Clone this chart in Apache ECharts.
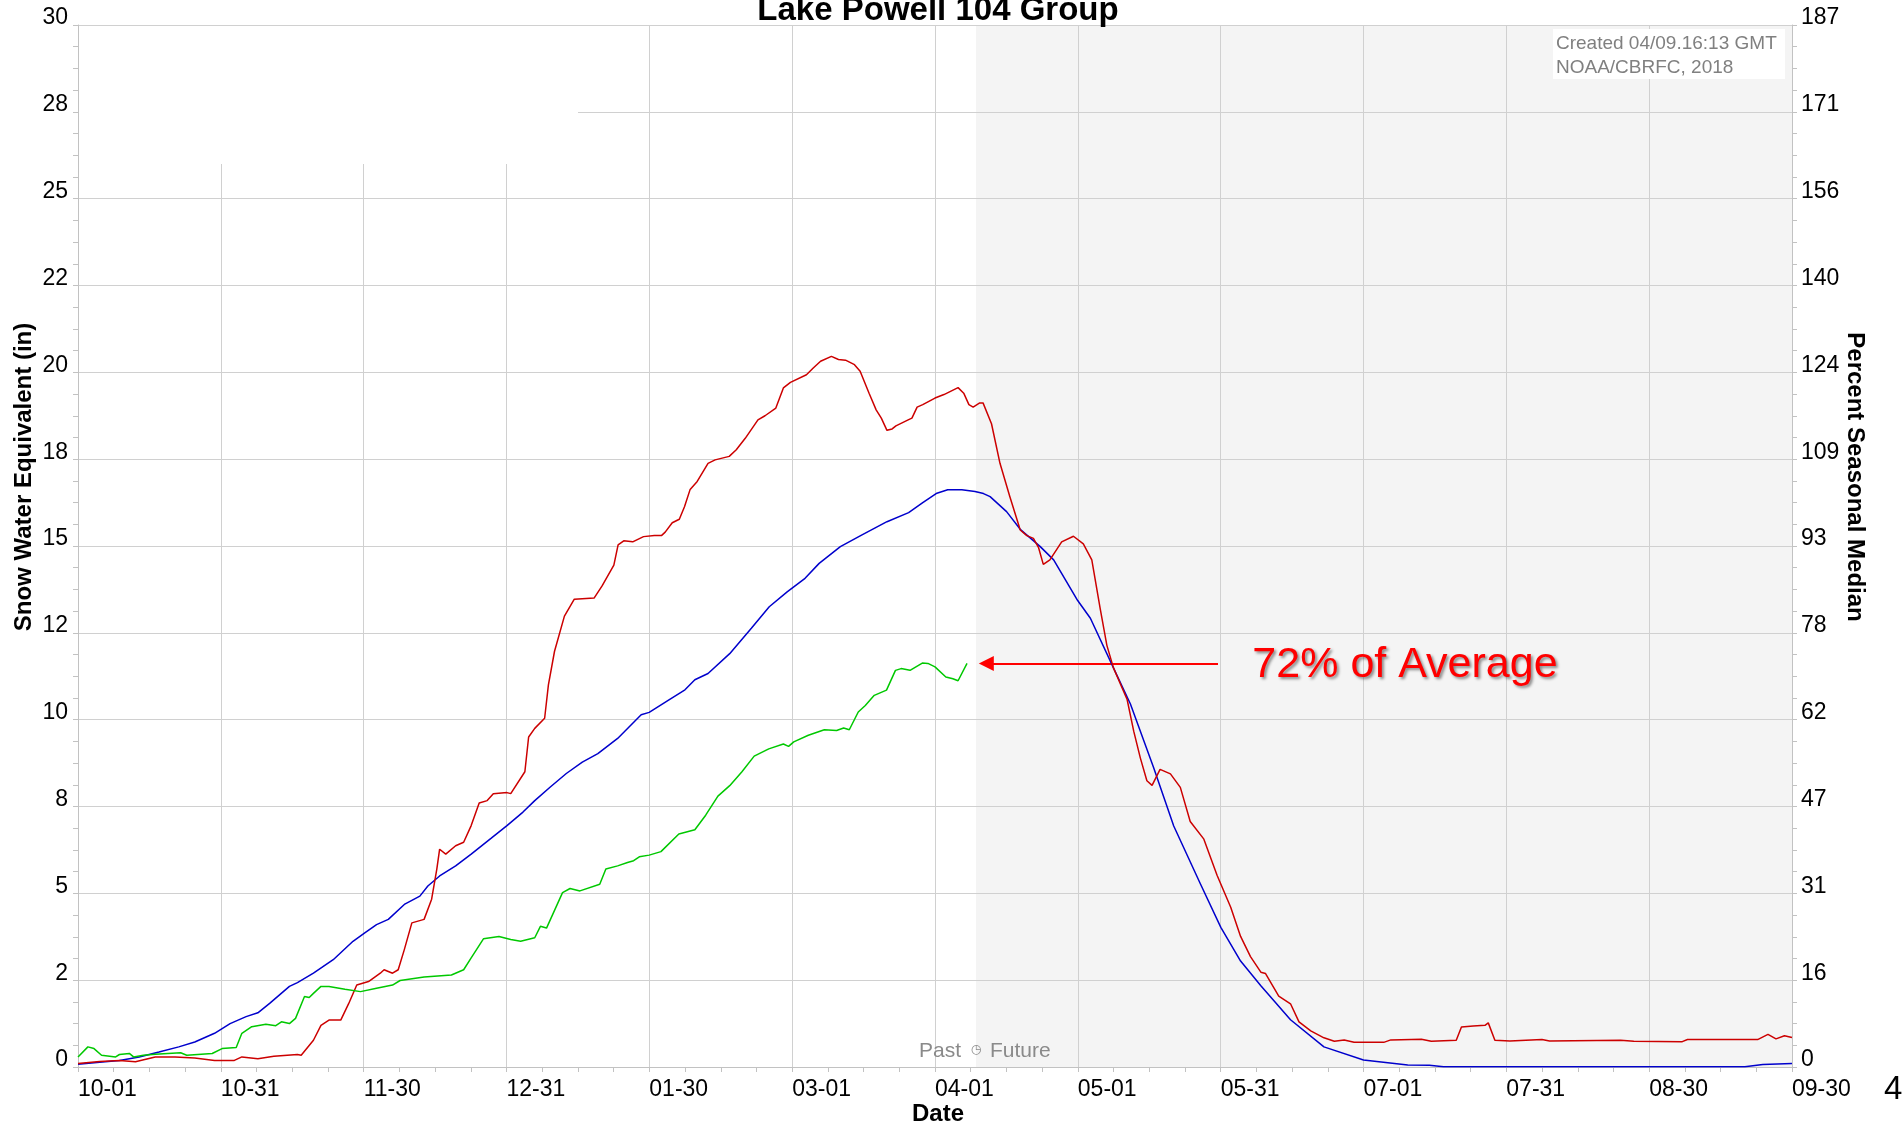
<!DOCTYPE html>
<html>
<head>
<meta charset="utf-8">
<title>Lake Powell 104 Group</title>
<script src="https://cdn.jsdelivr.net/npm/echarts@6/dist/echarts.min.js"></script>
<style>
  html, body { margin: 0; padding: 0; background: #ffffff; }
  #chart { width: 1903px; height: 1126px; }
</style>
</head>
<body>
<div id="chart"></div>
<script>
// ---- Water-year axis (day 0 = Oct 1, day 364 = Sep 30) ----
const seasonEndDay = 364;
const dateTickLabels = ['10-01', '10-31', '11-30', '12-31', '01-30', '03-01', '04-01',
                        '05-01', '05-31', '07-01', '07-31', '08-30', '09-30'];

// ---- Left axis: snow water equivalent (in) ----
const sweMax = 30;
const sweTickLabels = ['0', '2', '5', '8', '10', '12', '15', '18', '20', '22', '25', '28', '30'];

// ---- Right axis: percent of seasonal median ----
const pctMax = 186.6;
const pctTickLabels = ['0', '16', '31', '47', '62', '78', '93', '109', '124', '140', '156', '171', '187'];

// ---- Series: [day of water year, SWE inches] ----
const medianSwe = [
  [0,0.08],[4.6,0.14],[8.8,0.19],[13,0.29],[17.2,0.43],[21.4,0.58],[24.8,0.72],[29,0.97],[32.3,1.25],[35.7,1.45],
  [38.2,1.56],[40.7,1.83],[44.9,2.32],[46.6,2.43],[50,2.7],[54.2,3.09],[58.4,3.62],[60.9,3.86],[63.4,4.1],[65.9,4.25],
  [69.3,4.68],[72.6,4.92],[74.3,5.21],[76.8,5.5],[80.2,5.79],[83.5,6.13],[87.7,6.58],[91.1,6.95],[94.5,7.34],[97,7.67],
  [100.3,8.06],[103.7,8.45],[107.1,8.78],[110.4,9.02],[114.6,9.46],[119.6,10.14],[121.3,10.21],[125.5,10.57],[128.9,10.86],[131,11.15],
  [133.8,11.33],[138.4,11.9],[143,12.63],[146.8,13.25],[150.6,13.68],[154.4,14.07],[157.4,14.5],[161.9,14.98],[166.5,15.32],[171.8,15.7],
  [176.4,15.96],[179.4,16.25],[182.4,16.52],[184.7,16.62],[187.7,16.62],[190.5,16.57],[192.3,16.51],[193.7,16.42],[197.2,15.99],[200.1,15.48],
  [204.3,14.99],[207.2,14.6],[212.3,13.43],[215,12.92],[219.9,11.49],[223.5,10.45],[228.4,8.63],[232.7,6.94],[238.4,5.26],[242.7,4.02],
  [246.9,3.05],[251.2,2.34],[257.5,1.36],[264.6,0.58],[273,0.2],[282.4,0.06],[287,0.05],[290,0.01],[354,0.01],[357.8,0.07],
  [364,0.1]
];

const wy2017Swe = [
  [0,0.1],[4.6,0.16],[8.8,0.19],[12.2,0.15],[16.4,0.29],[20.6,0.29],[24.8,0.26],[29,0.19],[33.2,0.19],[34.8,0.29],
  [38.2,0.24],[41.6,0.31],[46.6,0.36],[47.4,0.34],[50,0.77],[51.6,1.2],[53.3,1.35],[55.8,1.35],[57.5,1.83],[59.2,2.36],
  [61.7,2.46],[64.2,2.7],[65,2.8],[66.8,2.7],[68,2.8],[69.3,3.38],[70.9,4.15],[73.5,4.25],[75.1,4.83],[76.2,5.7],
  [76.8,6.27],[78.1,6.13],[80.2,6.37],[81.9,6.47],[83.5,6.95],[85.2,7.6],[86.9,7.67],[88.2,7.87],[91.1,7.9],[91.9,7.87],
  [94.9,8.5],[95.7,9.5],[97,9.75],[99.1,10.04],[99.9,11.0],[101.2,11.97],[103.3,12.98],[105.4,13.47],[109.6,13.5],[111.3,13.85],
  [113.8,14.45],[114.7,15.03],[115.9,15.15],[117.8,15.12],[120.1,15.27],[122.4,15.3],[123.9,15.3],[124.7,15.4],[126.2,15.67],[127.7,15.77],
  [128.8,16.13],[130,16.63],[131.5,16.86],[133.8,17.38],[135.3,17.48],[138.3,17.58],[139.8,17.77],[141.7,18.1],[144.4,18.63],[145.9,18.75],
  [148.2,18.97],[149.8,19.55],[151.3,19.71],[154.7,19.93],[156.2,20.13],[157.7,20.32],[160,20.46],[161.5,20.37],[163,20.35],[164.9,20.22],
  [166.1,20.03],[168,19.4],[169.5,18.92],[170.6,18.68],[171.8,18.33],[172.9,18.37],[173.7,18.46],[176.3,18.63],[177.1,18.68],[178.2,19.0],
  [179.4,19.07],[182,19.26],[183.9,19.36],[186.9,19.56],[188.1,19.4],[189.2,19.07],[190.1,19.0],[191.5,19.12],[192.2,19.12],[194,18.52],
  [195.8,17.38],[197.9,16.42],[200.1,15.46],[201.5,15.3],[202.9,15.22],[204,14.95],[205,14.47],[206.4,14.6],[208.9,15.12],[211.4,15.28],
  [213.5,15.06],[215.3,14.6],[217.1,13.18],[218.5,12.14],[219.9,11.49],[222.8,10.58],[224.2,9.67],[225.6,8.9],[227,8.24],[228.1,8.11],
  [229.8,8.57],[232,8.44],[234.1,8.05],[236.2,7.07],[239.1,6.56],[241.9,5.52],[244.8,4.6],[246.9,3.76],[249,3.18],[251.2,2.73],
  [252.2,2.69],[255,2.04],[257.5,1.82],[259.3,1.3],[261.8,1.04],[264.6,0.84],[266.8,0.74],[268.9,0.78],[271,0.71],[277.3,0.71],
  [278.8,0.78],[285.3,0.8],[287.4,0.74],[292.7,0.77],[293.8,1.15],[296.3,1.18],[298.8,1.2],[299.5,1.27],[300.9,0.77],[304.1,0.75],
  [310.9,0.79],[312.5,0.75],[327.6,0.77],[330.4,0.74],[340.7,0.73],[341.8,0.79],[356.7,0.79],[358.9,0.94],[360.6,0.81],[362.4,0.9],
  [364,0.85]
];

const wy2018Swe = [
  [0,0.29],[2.1,0.58],[3.4,0.53],[5,0.34],[8,0.29],[8.8,0.36],[10.9,0.39],[11.8,0.29],[13.9,0.34],[16.4,0.37],
  [21.8,0.41],[23.1,0.34],[28.5,0.39],[30.6,0.53],[33.6,0.56],[34.8,0.97],[36.9,1.16],[39.9,1.23],[42,1.19],[43.2,1.3],
  [44.9,1.25],[46.2,1.4],[48.1,2.03],[49.1,2.0],[50,2.12],[51.6,2.32],[53.3,2.32],[56.7,2.24],[60,2.17],[63.4,2.27],
  [66.8,2.36],[68.4,2.49],[73.5,2.59],[79.3,2.65],[81.9,2.8],[83.5,3.14],[86.1,3.69],[89.4,3.76],[91.9,3.67],[94,3.62],
  [97,3.72],[98.2,4.05],[99.5,4.0],[102.9,5.02],[104.5,5.14],[106.6,5.07],[110.8,5.26],[112.1,5.7],[114.6,5.79],[116.7,5.89],
  [118,5.94],[119.2,6.05],[121.3,6.1],[123.8,6.2],[127.6,6.71],[131,6.83],[133.3,7.25],[135.9,7.8],[138.4,8.1],[141,8.5],
  [143.6,8.95],[146.7,9.16],[149.8,9.3],[150.9,9.23],[152,9.36],[155.1,9.55],[158.5,9.71],[161.1,9.69],[162.6,9.76],[163.8,9.71],
  [165.7,10.22],[167.2,10.41],[169.1,10.7],[171.7,10.85],[173.6,11.42],[174.8,11.47],[176.7,11.42],[179.3,11.63],[180.5,11.62],[182,11.52],
  [184.3,11.23],[185.8,11.18],[186.9,11.12],[188.8,11.62]
];

// Forecast period starts at the product time (Apr 9, 16:13)
const futureStartDay = 190.7;

// Annotation pointing at the latest observed value
const annotationText = '72% of Average';
const arrowTailDay = 242.1;
const arrowEndDay = 192.9;
const annotationLabelDay = 249.4;

const FONT = "'Liberation Sans', Arial, Helvetica, sans-serif";
const GRID_COLOR = '#d0d0d0';
const AXIS_COLOR = '#c2c2c2';

const dayStep = seasonEndDay / 12;
const sweStep = sweMax / 12;
const pctStep = pctMax / 12;
const latestSwe = wy2018Swe[wy2018Swe.length - 1][1];

function tickLabel(labels, step) {
  return function (value, index) {
    if (index >= labels.length) return '';
    return labels[Math.round(value / step)] || '';
  };
}

const chart = echarts.init(document.getElementById('chart'), null, { renderer: 'canvas', width: 1903, height: 1126 });

const option = {
  animation: false,
  backgroundColor: '#ffffff',
  textStyle: { fontFamily: FONT },
  grid: { left: 78, right: 111, top: 25, bottom: 59, containLabel: false, outerBoundsMode: 'none' },
  xAxis: {
    type: 'value',
    min: 0,
    max: seasonEndDay,
    interval: dayStep,
    z: 3,
    axisLine: { show: true, onZero: false, lineStyle: { color: AXIS_COLOR, width: 1 } },
    axisTick: { show: true, length: 5, lineStyle: { color: AXIS_COLOR } },
    minorTick: { show: true, splitNumber: 4, length: 5, lineStyle: { color: AXIS_COLOR } },
    splitLine: { show: true, lineStyle: { color: GRID_COLOR, width: 1 } },
    axisLabel: {
      formatter: tickLabel(dateTickLabels, dayStep),
      align: 'left',
      margin: 11,
      fontSize: 23,
      lineHeight: 23,
      color: '#000000',
      fontFamily: FONT,
      showMinLabel: true,
      showMaxLabel: true
    }
  },
  yAxis: [
    {
      type: 'value',
      position: 'left',
      min: 0,
      max: sweMax,
      interval: sweStep,
      z: 3,
      axisLine: { show: true, lineStyle: { color: AXIS_COLOR, width: 1 } },
      axisTick: { show: true, length: 5, lineStyle: { color: AXIS_COLOR } },
      minorTick: { show: true, splitNumber: 4, length: 5, lineStyle: { color: AXIS_COLOR } },
      splitLine: { show: true, lineStyle: { color: GRID_COLOR, width: 1 } },
      axisLabel: {
        formatter: tickLabel(sweTickLabels, sweStep),
        margin: 10,
        fontSize: 23,
        lineHeight: 14,
        verticalAlign: 'bottom',
        color: '#000000',
        fontFamily: FONT,
        showMinLabel: true,
        showMaxLabel: true
      }
    },
    {
      type: 'value',
      position: 'right',
      min: 0,
      max: pctMax,
      interval: pctStep,
      z: 3,
      axisLine: { show: true, lineStyle: { color: AXIS_COLOR, width: 1 } },
      axisTick: { show: true, length: 5, lineStyle: { color: AXIS_COLOR } },
      minorTick: { show: true, splitNumber: 4, length: 5, lineStyle: { color: AXIS_COLOR } },
      splitLine: { show: false },
      axisLabel: {
        formatter: tickLabel(pctTickLabels, pctStep),
        margin: 9,
        fontSize: 23,
        lineHeight: 14,
        verticalAlign: 'bottom',
        color: '#000000',
        fontFamily: FONT,
        showMinLabel: true,
        showMaxLabel: true
      }
    }
  ],
  series: [
    {
      // shaded forecast period
      name: 'Future',
      type: 'custom',
      z: 1,
      silent: true,
      xAxisIndex: 0,
      yAxisIndex: 0,
      data: [[futureStartDay, seasonEndDay]],
      renderItem: function (params, api) {
        const topLeft = api.coord([api.value(0), sweMax]);
        const bottomRight = api.coord([api.value(1), 0]);
        return {
          type: 'rect',
          shape: {
            x: topLeft[0],
            y: topLeft[1],
            width: bottomRight[0] - topLeft[0],
            height: bottomRight[1] - topLeft[1]
          },
          style: { fill: '#f4f4f4' }
        };
      }
    },
    {
      name: 'Median',
      type: 'line',
      z: 5,
      data: medianSwe,
      showSymbol: false,
      silent: true,
      lineStyle: { color: '#0000cc', width: 1.5 }
    },
    {
      name: 'WY 2017',
      type: 'line',
      z: 5,
      data: wy2017Swe,
      showSymbol: false,
      silent: true,
      lineStyle: { color: '#cc0000', width: 1.5 }
    },
    {
      name: 'WY 2018',
      type: 'line',
      z: 6,
      data: wy2018Swe,
      showSymbol: false,
      silent: true,
      lineStyle: { color: '#00c800', width: 1.5 },
      markLine: {
        silent: true,
        animation: false,
        symbol: ['none', 'triangle'],
        symbolSize: 15,
        label: { show: false },
        emphasis: { disabled: true },
        itemStyle: { color: '#ff0000' },
        lineStyle: { color: '#ff0000', width: 2, type: 'solid' },
        data: [[
          { coord: [arrowTailDay, latestSwe] },
          { coord: [arrowEndDay, latestSwe] }
        ]]
      }
    }
  ]
};

chart.setOption(option);

// ---- Text and boxes placed around the plot ----
const boundary = chart.convertToPixel({ gridIndex: 0 }, [futureStartDay, 0]);
const labelPos = chart.convertToPixel({ gridIndex: 0 }, [annotationLabelDay, latestSwe]);

const elements = [
  // blank legend area in the upper-left of the plot
  { type: 'rect', z: 100, silent: true, shape: { x: 79, y: 26, width: 499, height: 138 }, style: { fill: '#ffffff' } },

  // product stamp
  { type: 'rect', z: 100, silent: true, shape: { x: 1553, y: 29, width: 232, height: 50 }, style: { fill: '#ffffff' } },
  { type: 'text', z: 101, silent: true, x: 1556, y: 44,
    style: { text: 'Created 04/09.16:13 GMT', font: '19px ' + FONT, fill: '#808080', align: 'left', verticalAlign: 'middle' } },
  { type: 'text', z: 101, silent: true, x: 1556, y: 68,
    style: { text: 'NOAA/CBRFC, 2018', font: '19px ' + FONT, fill: '#808080', align: 'left', verticalAlign: 'middle' } },

  // title
  { type: 'text', z: 101, silent: true, x: 938, y: 11,
    style: { text: 'Lake Powell 104 Group', font: 'bold 33px ' + FONT, fill: '#000000', align: 'center', verticalAlign: 'middle' } },

  // axis titles
  { type: 'text', z: 101, silent: true, x: 24, y: 477, rotation: Math.PI / 2,
    style: { text: 'Snow Water Equivalent (in)', font: 'bold 24px ' + FONT, fill: '#000000', align: 'center', verticalAlign: 'middle' } },
  { type: 'text', z: 101, silent: true, x: 1855, y: 477, rotation: -Math.PI / 2,
    style: { text: 'Percent Seasonal Median', font: 'bold 24px ' + FONT, fill: '#000000', align: 'center', verticalAlign: 'middle' } },
  { type: 'text', z: 101, silent: true, x: 938, y: 1114,
    style: { text: 'Date', font: 'bold 24px ' + FONT, fill: '#000000', align: 'center', verticalAlign: 'middle' } },

  // page number
  { type: 'text', z: 101, silent: true, x: 1884, y: 1090,
    style: { text: '4', font: '33px ' + FONT, fill: '#000000', align: 'left', verticalAlign: 'middle' } },

  // past / future marker at the forecast boundary
  { type: 'text', z: 101, silent: true, x: boundary[0] - 15, y: boundary[1] - 16,
    style: { text: 'Past', font: '21px ' + FONT, fill: '#8a8a8a', align: 'right', verticalAlign: 'middle' } },
  { type: 'text', z: 101, silent: true, x: boundary[0], y: boundary[1] - 17,
    style: { text: '◷', font: '12px "DejaVu Sans", ' + FONT, fill: '#8a8a8a', align: 'center', verticalAlign: 'middle' } },
  { type: 'text', z: 101, silent: true, x: boundary[0] + 14, y: boundary[1] - 16,
    style: { text: 'Future', font: '21px ' + FONT, fill: '#8a8a8a', align: 'left', verticalAlign: 'middle' } },

  // percent-of-average callout
  { type: 'text', z: 101, silent: true, x: labelPos[0], y: labelPos[1] + 2,
    style: {
      text: annotationText, font: '43px ' + FONT, fill: '#ff0000', align: 'left', verticalAlign: 'middle',
      textShadowColor: 'rgba(0,0,0,0.45)', textShadowBlur: 3, textShadowOffsetX: 2, textShadowOffsetY: 2
    } }
];

chart.setOption({ graphic: { elements: elements } });
</script>
</body>
</html>
